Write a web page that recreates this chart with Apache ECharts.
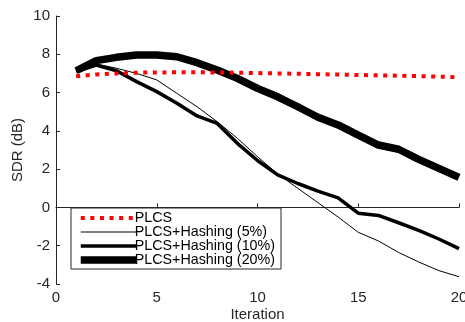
<!DOCTYPE html>
<html>
<head>
<meta charset="utf-8">
<script src="https://cdn.jsdelivr.net/npm/echarts@6/dist/echarts.min.js"></script>
<style>
  html, body { margin: 0; padding: 0; background: #fff; }
  #chart { width: 465px; height: 322px; }
</style>
</head>
<body>
<div id="chart"></div>
<script>
const iterations = [1, 2, 3, 4, 5, 6, 7, 8, 9, 10, 11, 12, 13, 14, 15, 16, 17, 18, 19, 20]

const plcs = [6.85, 6.95, 7.0, 7.04, 7.05, 7.06, 7.06, 7.05, 7.04, 7.02, 7.0, 6.98, 6.96, 6.94, 6.92, 6.9, 6.88, 6.86, 6.83, 6.8]
const hashing5 = [7.1, 7.49, 7.27, 7.0, 6.66, 5.96, 5.26, 4.48, 3.61, 2.65, 1.75, 1.0, 0.25, -0.5, -1.3, -1.75, -2.35, -2.85, -3.3, -3.62]
const hashing10 = [7.1, 7.44, 7.14, 6.57, 6.05, 5.44, 4.78, 4.39, 3.35, 2.45, 1.7, 1.25, 0.85, 0.5, -0.3, -0.42, -0.8, -1.2, -1.65, -2.15]
const hashing20 = [7.14, 7.67, 7.84, 7.96, 7.96, 7.87, 7.56, 7.18, 6.74, 6.22, 5.78, 5.26, 4.71, 4.31, 3.78, 3.26, 3.04, 2.51, 2.04, 1.57]

const seriesNames = ["PLCS", "PLCS+Hashing (5%)", "PLCS+Hashing (10%)", "PLCS+Hashing (20%)"]

const xTicks = [0, 5, 10, 15, 20]
const yTicks = [-4, -2, 0, 2, 4, 6, 8, 10]

const pairs = (ys) => ys.map((y, i) => [iterations[i], y])

const axisColor = "#262626"
const font = "'Liberation Sans', Arial, Helvetica, sans-serif"

const chart = echarts.init(document.getElementById("chart"), null, { renderer: "canvas" })

const option = {
  backgroundColor: "#fff",
  animation: false,
  textStyle: { fontFamily: font },
  grid: {
    left: 56,
    right: 6,
    top: 16,
    bottom: 38,
    containLabel: false,
    outerBoundsMode: "none",
  },
  legend: {
    left: 71,
    top: 208,
    orient: "vertical",
    data: seriesNames,
    backgroundColor: "#fff",
    borderColor: axisColor,
    borderWidth: 1,
    borderRadius: 0,
    padding: [3, 6, 2, 6],
    itemWidth: 56,
    itemHeight: 13,
    itemGap: 0,
    itemStyle: { opacity: 0 },
    lineStyle: { width: "inherit" },
    textStyle: {
      color: "#000",
      fontSize: 14.3,
      fontFamily: font,
      padding: [0, 0, 0, -7],
    },
  },
  xAxis: {
    type: "value",
    min: xTicks[0],
    max: xTicks[xTicks.length - 1],
    interval: 5,
    name: "Iteration",
    nameLocation: "middle",
    nameGap: 23,
    nameMoveOverlap: false,
    nameTextStyle: { color: axisColor, fontSize: 15, fontFamily: font },
    axisLine: { lineStyle: { color: axisColor, width: 1 } },
    axisTick: { inside: true, length: 4, lineStyle: { color: axisColor } },
    axisLabel: { color: axisColor, fontSize: 15, margin: 6, fontFamily: font },
    splitLine: { show: false },
  },
  yAxis: {
    type: "value",
    min: yTicks[0],
    max: yTicks[yTicks.length - 1],
    interval: 2,
    name: "SDR (dB)",
    nameLocation: "middle",
    nameGap: 31,
    nameMoveOverlap: false,
    nameTextStyle: { color: axisColor, fontSize: 15, fontFamily: font },
    axisLine: { show: true, lineStyle: { color: axisColor, width: 1 } },
    axisTick: { show: true, inside: true, length: 4, lineStyle: { color: axisColor } },
    axisLabel: { color: axisColor, fontSize: 15, margin: 6, fontFamily: font },
    splitLine: { show: false },
  },
  series: [
    {
      name: seriesNames[0],
      type: "line",
      data: pairs(plcs),
      symbol: "none",
      z: 5,
      itemStyle: { color: "#ff0000" },
      lineStyle: { color: "#ff0000", width: 4, type: [4, 5.6], cap: "butt" },
    },
    {
      name: seriesNames[1],
      type: "line",
      data: pairs(hashing5),
      symbol: "none",
      itemStyle: { color: "#000" },
      lineStyle: { color: "#000", width: 1 },
    },
    {
      name: seriesNames[2],
      type: "line",
      data: pairs(hashing10),
      symbol: "none",
      itemStyle: { color: "#000" },
      lineStyle: { color: "#000", width: 3.5, join: "round" },
    },
    {
      name: seriesNames[3],
      type: "line",
      data: pairs(hashing20),
      symbol: "none",
      itemStyle: { color: "#000" },
      lineStyle: { color: "#000", width: 7.5, join: "round" },
    },
  ],
}

chart.setOption(option)

window.addEventListener("resize", () => chart.resize())
</script>
</body>
</html>
